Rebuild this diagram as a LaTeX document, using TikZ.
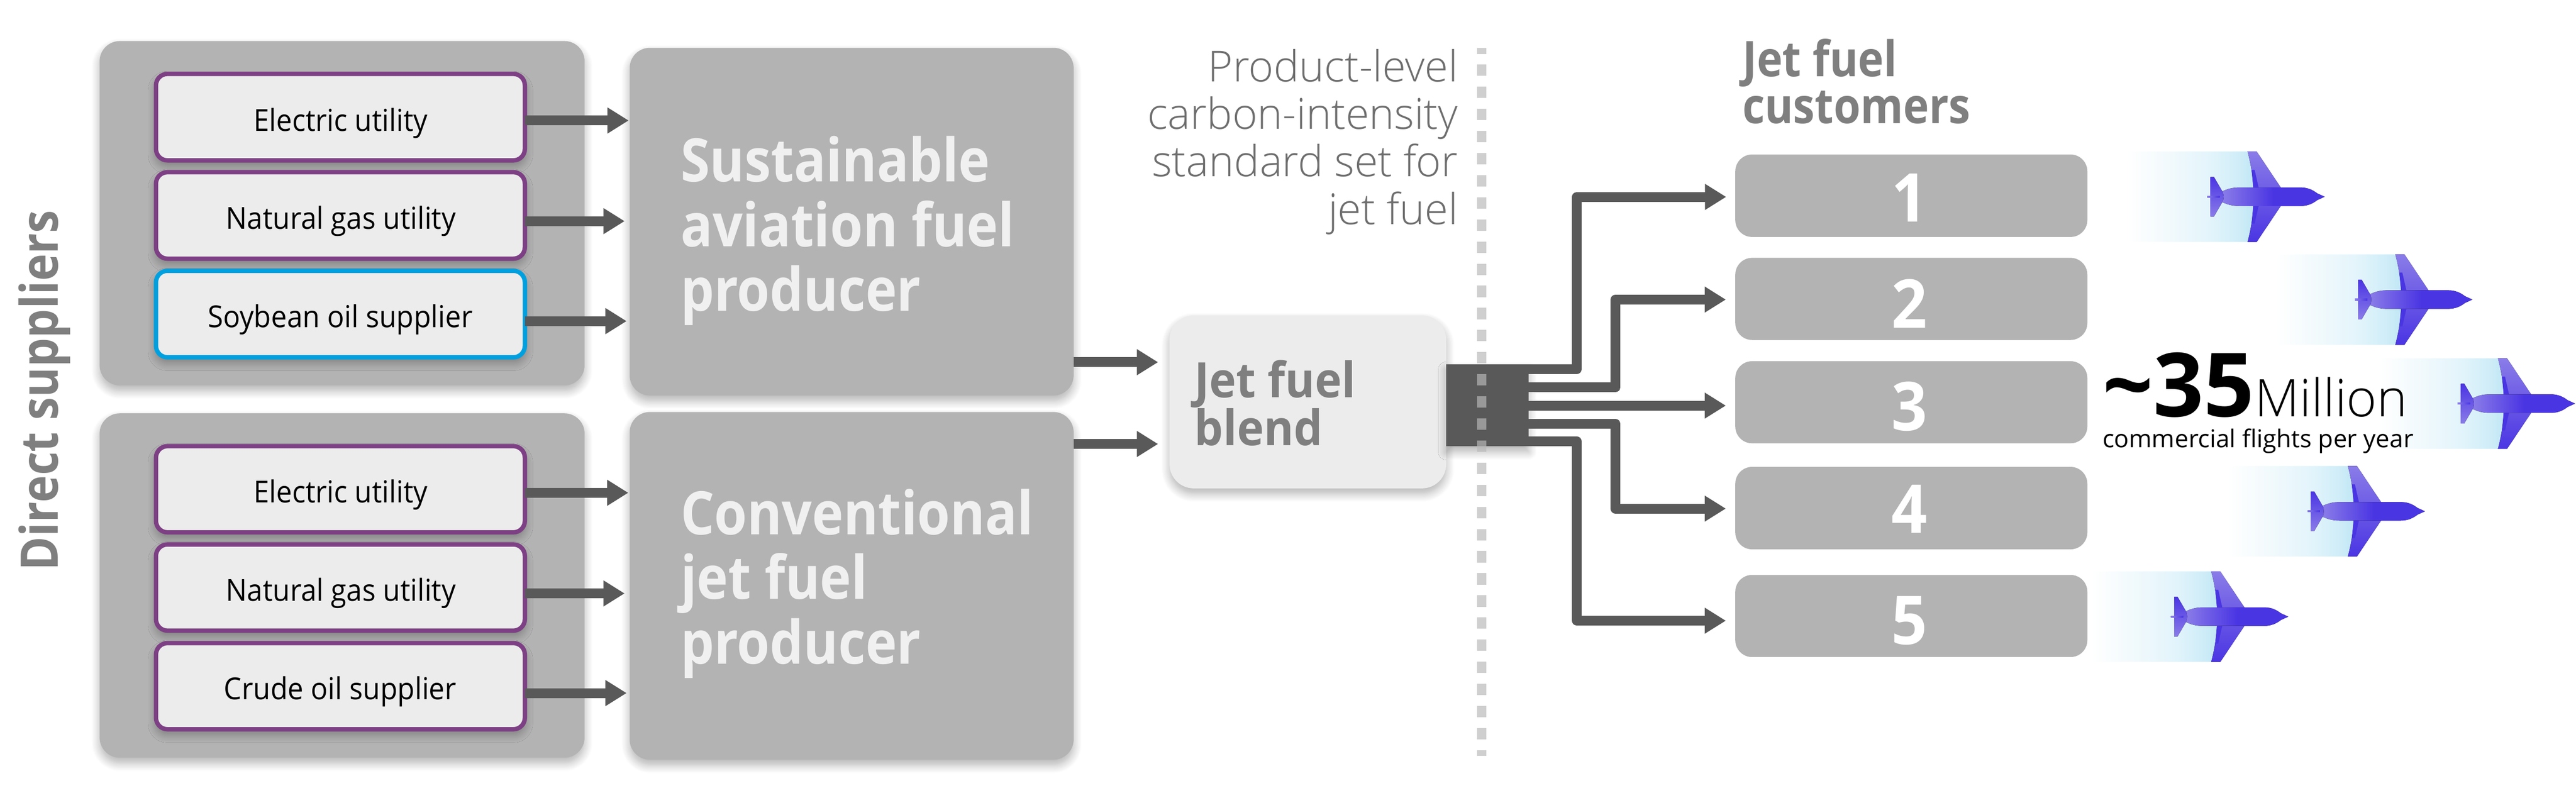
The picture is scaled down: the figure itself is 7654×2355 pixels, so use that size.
\documentclass[tikz,border=0pt]{standalone}
\usepackage{fontspec}
\setmainfont[FakeStretch=0.93]{Open Sans}
\newfontfamily\fun{Open Sans}
\newfontfamily\fsbase[FakeStretch=0.885]{Open Sans}
\newfontfamily\fscbase[FakeStretch=0.93]{Open Sans}
\newcommand{\fsb}{\fsbase\bfseries}
\newcommand{\fsc}{\fscbase\bfseries}
\newfontfamily\flt{Open Sans Light}
\usetikzlibrary{arrows.meta,shadows.blur,positioning,calc}
\definecolor{grp}{HTML}{B3B3B3}
\definecolor{lite}{HTML}{ECECEC}
\definecolor{purp}{HTML}{7D4084}
\definecolor{cyn}{HTML}{00A0DF}
\definecolor{drk}{HTML}{595959}
\definecolor{gtx}{HTML}{7F7F7F}
\definecolor{gtl}{HTML}{6E6E6E}
\definecolor{pla}{HTML}{4A35E3}
\definecolor{plb}{HTML}{8A7CE8}
\definecolor{wka}{HTML}{F0F9FC}
\definecolor{wkb}{HTML}{E2F4FB}
\definecolor{wkc}{HTML}{D0EDF8}
\definecolor{wkd}{HTML}{BFE6F5}
\pgfdeclarehorizontalshading{wakeshade}{100bp}{color(0bp)=(white); color(25bp)=(white); color(43bp)=(wka); color(58bp)=(wkb); color(68bp)=(wkc); color(75bp)=(wkd); color(100bp)=(wkd)}
\newcommand{\fs}[2][]{\fontsize{#2}{#2}\selectfont}
\newcommand{\fsl}[2]{\fontsize{#1}{#2}\selectfont}
\newcommand{\rbox}[6]{%
  \pgfmathsetmacro\rw{#5-#3}\pgfmathsetmacro\rh{#6-#4}%
  \pgfmathsetmacro\cx{(#3+#5)/2}\pgfmathsetmacro\cy{(#4+#6)/2}%
  \node[#2,minimum width=\rw pt,minimum height=\rh pt] (#1) at (\cx,\cy) {};}
\newcommand{\jetplane}[3]{%
\begin{scope}[shift={(#2,#3)}]
  \coordinate (#1) at (-346,0);
  \shade[shading=wakeshade] (-585,-134.5) -- (-229,-134.5) .. controls (-205,-45) and (-205,45) .. (-229,134.5) -- (-585,134.5) -- cycle;
  \fill[top color=plb,bottom color=pla] (-229,-134.5) -- (-202,-134.5) -- (-130,-27) -- (-130,27) -- (-202,134.5) -- (-229,134.5) .. controls (-205,45) and (-205,-45) .. cycle;
  \fill[pla] (-217,-80) -- (-208,-80) -- (-196,-27) -- (-212,-27) -- cycle;
  \fill[pla] (-217,80) -- (-208,80) -- (-196,27) -- (-212,27) -- cycle;
  \fill[left color=plb,right color=pla,middle color=pla] (-304,-16) .. controls (-285,-25) and (-270,-27.5) .. (-253,-27.5) -- (-72,-27.5) .. controls (-50,-27.5) and (-35,-20) .. (-22,-10) -- (0,0) -- (-22,10) .. controls (-35,20) and (-50,27.5) .. (-72,27.5) -- (-253,27.5) .. controls (-270,27.5) and (-285,25) .. (-304,16) .. controls (-300,5) and (-300,-5) .. cycle;
  \fill[top color=pla,middle color=pla,bottom color=plb] (-339,-59) -- (-329,-59) -- (-304,-16) .. controls (-299,-5) and (-299,5) .. (-304,16) -- (-329,59) -- (-339,59) -- cycle;
  \fill[left color=plb,right color=pla] (-349,-2.5) rectangle (-312,2.5);
\end{scope}}
\tikzset{
  x=1pt,y=-1pt,
  softshadow/.style={blur shadow={shadow xshift=0pt,shadow yshift=-16pt,shadow blur radius=24pt,shadow opacity=30,shadow blur steps=10}},
  groupbox/.style={fill=grp,rounded corners=60pt,inner sep=0pt,outer sep=0pt,softshadow},
  leafbox/.style={fill=lite,draw=purp,line width=13pt,rounded corners=34pt,inner sep=0pt,outer sep=0pt,softshadow},
  leafblue/.style={leafbox,draw=cyn},
  custbox/.style={fill=grp,rounded corners=50pt,inner sep=0pt,outer sep=0pt},
  blendbox/.style={fill=lite,rounded corners=72pt,inner sep=0pt,outer sep=0pt,softshadow},
  hub/.style={fill=drk,inner sep=0pt,outer sep=0pt,softshadow},
  arr/.style={draw=drk,line width=29pt,-{Triangle[length=63pt,width=73pt]}},
  brarr/.style={arr,line join=round},
  leaftext/.style={inner sep=0pt,anchor=base,font=\fs{90}},
  headtext/.style={inner sep=0pt,anchor=base west,align=left,text=lite!80!white,font=\fsb\fsl{178}{192}},
  numtext/.style={inner sep=0pt,anchor=base,text=white,font=\bfseries\fs{200}},
}
\begin{document}
\begin{tikzpicture}
\useasboundingbox (0,0) rectangle (7654,2355);
% groups
\rbox{ga}{groupbox}{296}{122}{1737}{1145}
\rbox{gb}{groupbox}{296}{1228}{1737}{2251}
\rbox{pa}{groupbox}{1871}{142}{3190}{1175}
\rbox{pb}{groupbox}{1871}{1224}{3190}{2257}
% leaf boxes
\rbox{a1}{leafbox}{463.5}{219.5}{1559.5}{476.5}
\rbox{a2}{leafbox}{463.5}{511.5}{1559.5}{768.5}
\rbox{a3}{leafblue}{463.5}{804.5}{1559.5}{1061.5}
\rbox{b1}{leafbox}{463.5}{1325.5}{1559.5}{1581.5}
\rbox{b2}{leafbox}{463.5}{1617.5}{1559.5}{1873.5}
\rbox{b3}{leafbox}{463.5}{1910.5}{1559.5}{2166.5}
\node[leaftext] at (1012,390) {Electric utility};
\node[leaftext] at (1013,681) {Natural gas utility};
\node[leaftext] at (1011,973) {Soybean oil supplier};
\node[leaftext] at (1012,1494) {Electric utility};
\node[leaftext] at (1013,1786) {Natural gas utility};
\node[leaftext] at (1011,2078) {Crude oil supplier};
% leaf arrows
\coordinate (ta1) at (1868,358);\coordinate (ta2) at (1856,657);\coordinate (ta3) at (1862,954);
\coordinate (tb1) at (1867,1464);\coordinate (tb2) at (1856,1763);\coordinate (tb3) at (1862,2059);
\draw[arr] (a1.east |- ta1) -- (ta1);
\draw[arr] (a2.east |- ta2) -- (ta2);
\draw[arr] (a3.east |- ta3) -- (ta3);
\draw[arr] (b1.east |- tb1) -- (tb1);
\draw[arr] (b2.east |- tb2) -- (tb2);
\draw[arr] (b3.east |- tb3) -- (tb3);
% producers text
\node[headtext] (ht1) at (2022,924) {Sustainable\\aviation fuel\\producer};
\node[headtext] (ht2) at (2022,1972) {Conventional\\jet fuel\\producer};
% blend
\rbox{bl}{blendbox}{3475}{937}{4297}{1451}
\node[inner sep=0pt,anchor=base west,align=left,text=gtx,font=\fsc\fsl{145}{136}] at (3549,1323) {Jet fuel\\blend};
\coordinate (tp1) at (3441,1076);\coordinate (tp2) at (3441,1319);
\draw[arr] (pa.east |- tp1) -- (tp1);
\draw[arr] (pb.east |- tp2) -- (tp2);
% hub
\rbox{hb}{hub}{4297}{1083}{4542}{1326}
% customers
\rbox{c1}{custbox}{5156}{459}{6202}{704}
\rbox{c2}{custbox}{5156}{766}{6202}{1010}
\rbox{c3}{custbox}{5156}{1073}{6202}{1317}
\rbox{c4}{custbox}{5156}{1387}{6202}{1632}
\rbox{c5}{custbox}{5156}{1708}{6202}{1952}
\node[numtext] at (5674,659) {1};
\node[numtext] at (5674,974) {2};
\node[numtext] at (5674,1279) {3};
\node[numtext] at (5674,1584) {4};
\node[numtext] at (5674,1914) {5};
% branches
\coordinate (k1a) at (4685,1097);\coordinate (k1b) at (4685,585);\coordinate (k1) at (5129,585);
\coordinate (k2a) at (4800,1151);\coordinate (k2b) at (4800,890);\coordinate (k2) at (5128,890);
\coordinate (k3) at (5128,1205);
\coordinate (k4a) at (4800,1259);\coordinate (k4b) at (4800,1511);\coordinate (k4) at (5128,1511);
\coordinate (k5a) at (4685,1311);\coordinate (k5b) at (4685,1844);\coordinate (k5) at (5128,1844);
\draw[brarr] (hb.east |- k1a) -- (k1a) -- (k1b) -- (k1);
\draw[brarr] (hb.east |- k2a) -- (k2a) -- (k2b) -- (k2);
\draw[arr] (hb.east |- k3) -- (k3);
\draw[brarr] (hb.east |- k4a) -- (k4a) -- (k4b) -- (k4);
\draw[brarr] (hb.east |- k5a) -- (k5a) -- (k5b) -- (k5);
% divider
\coordinate (da) at (4402,143);\coordinate (db) at (4402,2245);
\draw[draw=black!28,draw opacity=.675,line width=28pt,dash pattern=on 34pt off 31.7pt,dash phase=17pt] (da) -- (db);
% titles
\node[inner sep=0pt,anchor=base east,align=right,text=gtl,font=\flt\fsl{127}{141}] at (4332,666) {Product-level\\carbon-intensity\\standard set for\\jet fuel};
\node[inner sep=0pt,anchor=base west,align=left,text=gtx,font=\fsb\fsl{146}{139}] at (5177,366) {Jet fuel\\customers};
\node[inner sep=0pt,anchor=base west,rotate=90,text=gtx,font=\fsb\fs{154}] at (172,1695) {Direct suppliers};
% planes
\jetplane{pl1}{6907}{584.5}
\jetplane{pl2}{7346}{890}
\jetplane{pl3}{7651}{1199}
\jetplane{pl4}{7205}{1519}
\jetplane{pl5}{6799}{1832}
% statistic
\node[inner sep=0pt,anchor=base west,font=\fun\bfseries\fs{263}] at (6247,1237) {\textasciitilde35};
\node[inner sep=0pt,anchor=base west,font=\flt\fs{154}] at (6700,1237) {Million};
\node[inner sep=0pt,anchor=base west,font=\fun\fs{73}] at (6247,1329) {commercial flights per year};
\end{tikzpicture}
\end{document}
